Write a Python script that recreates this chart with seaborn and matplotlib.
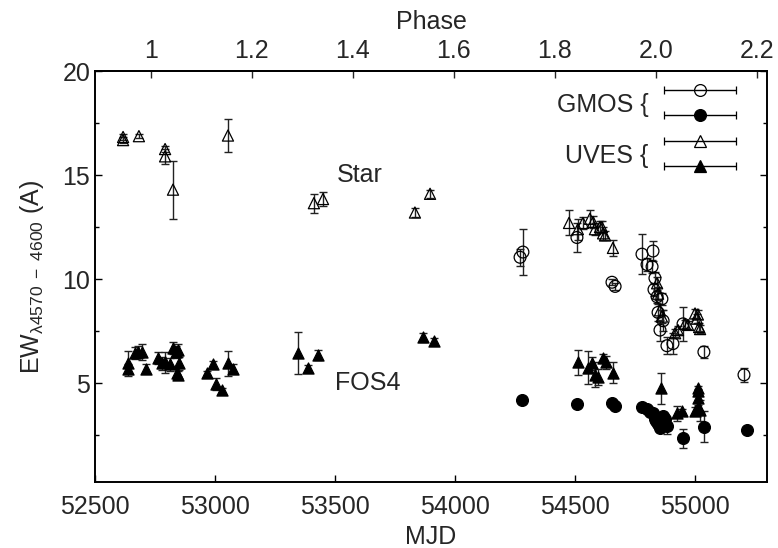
import numpy as np
import pandas as pd
import matplotlib
matplotlib.use("Agg")
import matplotlib.pyplot as plt
import seaborn as sns
from matplotlib.container import ErrorbarContainer
from matplotlib.legend_handler import HandlerErrorbar

# UVES, open triangles (star)
uves_star_mjd = [52617, 52617, 52683, 52792, 52792, 52825, 53054, 53412, 53450, 53833, 53896,
                 54475, 54512, 54533, 54562, 54575, 54583, 54604, 54612, 54617, 54625, 54658,
                 54842, 54846, 54854, 54862, 54917, 54929, 54958, 54971, 55000, 55008, 55012,
                 55017, 55021]
uves_star_ew = [16.83, 16.68, 16.87, 16.25, 15.9, 14.3, 16.9, 13.65, 13.85, 13.2, 14.1,
                12.7, 12.4, 12.7, 12.9, 12.75, 12.4, 12.5, 12.5, 12.2, 12.1, 11.5,
                9.8, 9.3, 8.5, 8.2, 7.4, 7.55, 7.85, 7.8, 8.35, 8.1, 8.3,
                7.7, 7.6]
uves_star_err = [0.15, 0.15, 0.1, 0.15, 0.35, 1.4, 0.8, 0.45, 0.35, 0.2, 0.2,
                 0.6, 0.5, 0.3, 0.4, 0.3, 0.3, 0.3, 0.3, 0.3, 0.2, 0.4,
                 0.3, 0.3, 0.3, 0.3, 0.2, 0.2, 0.2, 0.2, 0.2, 0.2, 0.2,
                 0.2, 0.2]

# GMOS, open circles (star)
gmos_star_mjd = [54271, 54283, 54508, 54654, 54667, 54779, 54800, 54821, 54825, 54833,
                 54829, 54842, 54862, 54846, 54867, 54854, 54883, 54908, 54950, 55037, 55204]
gmos_star_ew = [11.05, 11.3, 12.0, 9.85, 9.65, 11.2, 10.7, 10.6, 11.35, 10.05,
                9.5, 9.15, 9.05, 8.4, 8.0, 7.55, 6.8, 6.9, 7.85, 6.5, 5.4]
gmos_star_err = [0.4, 1.1, 0.7, 0.15, 0.15, 0.95, 0.3, 0.3, 0.5, 0.3,
                 0.3, 0.3, 0.3, 0.4, 0.5, 0.5, 0.4, 0.5, 0.8, 0.3, 0.35]

# GMOS, filled circles (FOS4)
gmos_fos_mjd = [54279, 54508, 54654, 54667, 54779, 54800, 54812, 54825, 54833, 54837,
                54846, 54854, 54858, 54867, 54875, 54883, 54950, 55037, 55217]
gmos_fos_ew = [4.18, 4.0, 4.03, 3.9, 3.85, 3.75, 3.6, 3.55, 3.3, 3.2,
               3.05, 2.85, 3.1, 3.4, 3.3, 2.95, 2.35, 2.9, 2.75]
gmos_fos_err = [0.15, 0.1, 0.1, 0.1, 0.2, 0.15, 0.15, 0.2, 0.2, 0.15,
                0.2, 0.2, 0.15, 0.2, 0.2, 0.4, 0.45, 0.75, 0.1]

# UVES, filled triangles (FOS4)
uves_fos_mjd = [52637, 52637, 52667, 52679, 52696, 52712, 52762, 52779, 52792, 52812,
                52825, 52837, 52846, 52850, 52842, 52846, 52967, 52992, 53004, 53029,
                53054, 53075, 53346, 53387, 53429, 53867, 53912,
                54512, 54554, 54571, 54583, 54596, 54617, 54629, 54658,
                54858, 54925, 54946, 55000, 55012, 55012, 55012, 55012, 55021]
uves_fos_ew = [5.96, 5.7, 6.45, 6.5, 6.5, 5.7, 6.2, 5.95, 6.0, 5.9,
               6.7, 6.5, 6.6, 5.95, 5.5, 5.4, 5.48, 5.9, 4.95, 4.65,
               5.95, 5.7, 6.45, 5.73, 6.35, 7.2, 7.05,
               6.0, 5.75, 5.95, 5.4, 5.3, 6.2, 6.0, 5.5,
               4.75, 3.55, 3.65, 3.65, 3.85, 4.3, 4.6, 4.75, 3.7]
uves_fos_err = [0.6, 0.2, 0.3, 0.3, 0.4, 0.2, 0.3, 0.3, 0.5, 0.3,
                0.3, 0.3, 0.3, 0.3, 0.3, 0.2, 0.1, 0.15, 0.3, 0.1,
                0.6, 0.2, 1.0, 0.15, 0.25, 0.2, 0.1,
                0.6, 0.8, 0.3, 0.6, 0.4, 0.2, 0.3, 0.5,
                0.75, 0.35, 0.1, 0.2, 0.1, 0.1, 0.1, 0.1, 0.5]

phase_ticks = [1.0, 1.2, 1.4, 1.6, 1.8, 2.0, 2.2]
phase_labels = ["1", "1.2", "1.4", "1.6", "1.8", "2.0", "2.2"]
phase_zero = 52733.0
period = 2104.0

sns.set_theme(style="ticks")
plt.rcParams["font.family"] = ["Liberation Sans", "DejaVu Sans"]
plt.rcParams["mathtext.fontset"] = "custom"
plt.rcParams["mathtext.rm"] = "Liberation Sans"
plt.rcParams["mathtext.it"] = "Liberation Sans"

fig = plt.figure(figsize=(7.78, 5.48), dpi=100)
ax = fig.add_axes([0.1221, 0.1204, 0.8638, 0.7500])

series = [
    (gmos_star_mjd, gmos_star_ew, gmos_star_err, "o", "none", 8.5),
    (gmos_fos_mjd, gmos_fos_ew, gmos_fos_err, "o", "black", 8.5),
    (uves_star_mjd, uves_star_ew, uves_star_err, "^", "none", 8),
    (uves_fos_mjd, uves_fos_ew, uves_fos_err, "^", "black", 8),
]

for mjd, ew, err, mk, fc, ms in series:
    df = pd.DataFrame({"mjd": mjd, "ew": ew, "err": err})
    ax.errorbar(df["mjd"], df["ew"], yerr=df["err"], fmt="none", ecolor="#222222",
                elinewidth=1.0, capsize=2.8, capthick=1.0, zorder=2)
    sns.scatterplot(data=df, x="mjd", y="ew", ax=ax, marker=mk, s=ms ** 2,
                    color="black", facecolor=fc, edgecolor="black", linewidth=0.9,
                    zorder=3, legend=False)

# legend proxies: horizontal error bars with the marker in the middle
handles = []
for mjd, ew, err, mk, fc, ms in series:
    h = ax.errorbar([np.nan], [np.nan], xerr=[1.0], fmt=mk, mfc=fc, mec="black",
                    ms=ms, mew=0.9, ecolor="black", elinewidth=1.0, capsize=2.8)
    handles.append(h)
ax.legend(handles, ["", "", "", ""], loc="upper right",
          bbox_to_anchor=(0.973, 1.009), frameon=False, fontsize=18,
          handlelength=2.9, handleheight=1.0, labelspacing=0.03,
          handletextpad=0.0, borderpad=0.0,
          handler_map={ErrorbarContainer: HandlerErrorbar(xerr_size=1.45, numpoints=1)})

ax.text(0.824, 0.918, "GMOS {", transform=ax.transAxes, ha="right", va="center",
        fontsize=18)
ax.text(0.824, 0.793, "UVES {", transform=ax.transAxes, ha="right", va="center",
        fontsize=18)
ax.text(53604, 15.0, "Star", ha="center", va="center", fontsize=18)
ax.text(53637, 5.0, "FOS4", ha="center", va="center", fontsize=18)

ax.set_xlim(52500, 55300)
ax.set_ylim(0.25, 20)
ax.set_xticks([52500, 53000, 53500, 54000, 54500, 55000])
ax.set_yticks([5, 10, 15, 20])
ax.set_yticks([2.5, 7.5, 12.5, 17.5], minor=True)
ax.tick_params(axis="both", which="both", direction="in", labelsize=18,
               color="black", width=1.0)
ax.tick_params(axis="both", which="major", length=5)
ax.tick_params(axis="y", which="minor", length=3)
ax.tick_params(axis="y", which="both", right=True)
ax.tick_params(axis="x", pad=9)
for sp in ax.spines.values():
    sp.set_linewidth(1.4)
    sp.set_color("black")

sec = ax.secondary_xaxis("top", functions=(lambda m: 1 + (m - phase_zero) / period,
                                           lambda p: phase_zero + (p - 1) * period))
sec.set_xticks(phase_ticks)
sec.set_xticklabels(phase_labels)
sec.tick_params(direction="in", length=5, width=1.0, labelsize=18, pad=6)
sec.set_xlabel("Phase", fontsize=18, labelpad=7)

ax.set_xlabel("MJD", fontsize=18, labelpad=5)
ax.set_ylabel(r"EW$_{\lambda 4570\ -\ 4600}$ (A)", fontsize=18, labelpad=12)

fig.savefig("out.png", dpi=100)
